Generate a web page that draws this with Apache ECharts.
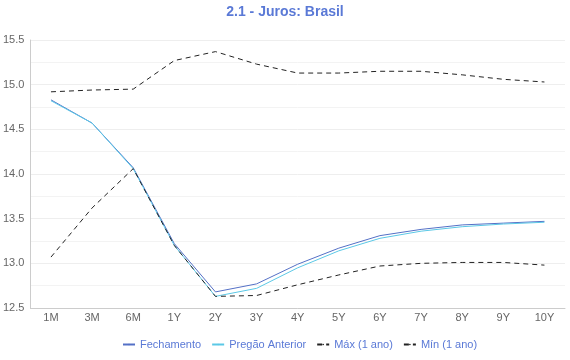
<!DOCTYPE html>
<html><head><meta charset="utf-8">
<script src="https://cdn.jsdelivr.net/npm/echarts@6/dist/echarts.min.js"></script>
<style>html,body{margin:0;padding:0;background:#fff}#c{width:570px;height:360px}</style>
</head><body><div id="c"></div>
<script>
const categories = ['1M','3M','6M','1Y','2Y','3Y','4Y','5Y','6Y','7Y','8Y','9Y','10Y'];
const fechamento = [14.83,14.57,14.07,13.22,12.68,12.77,12.99,13.17,13.31,13.38,13.43,13.45,13.47];
const pregaoAnterior = [14.82,14.57,14.06,13.20,12.63,12.72,12.95,13.14,13.28,13.36,13.41,13.44,13.46];
const maximo = [14.92,14.94,14.95,15.27,15.37,15.23,15.13,15.13,15.15,15.15,15.11,15.06,15.03];
const minimo = [13.07,13.62,14.06,13.20,12.63,12.64,12.76,12.87,12.97,13.00,13.01,13.01,12.98];
const yTicks = {min:12.5, max:15.5, interval:0.5};

const chart = echarts.init(document.getElementById('c'));
const font = 'Liberation Sans, Arial, sans-serif';
function mk(name, data, color, dashed){
  return {name, type:'line', data, symbol:'none', smooth:false,
    lineStyle:{color, width:1, type: dashed ? [5,4] : 'solid'},
    itemStyle:{color}};
}
chart.setOption({
  animation:false,
  title:{text:'2.1 - Juros: Brasil', left:'center', top:0,
    textStyle:{color:'#5a79d6', fontSize:14, fontWeight:'bold', fontFamily:font}},
  legend:{bottom:5, left:117, itemWidth:12, itemHeight:2, itemGap:10,
    textStyle:{color:'#5a79d6', fontSize:11, fontFamily:font}},
  grid:{left:30, right:5, top:40, bottom:52, containLabel:false},
  xAxis:{type:'category', data:categories, boundaryGap:true,
    axisLine:{lineStyle:{color:'#ccc'}}, axisTick:{show:false},
    axisLabel:{color:'#666', fontSize:11, fontFamily:font, margin:4}},
  yAxis:{type:'value', min:yTicks.min, max:yTicks.max, interval:yTicks.interval,
    axisLine:{show:true, lineStyle:{color:'#ccc'}}, axisTick:{show:false},
    axisLabel:{color:'#666', fontSize:11, fontFamily:font, formatter:v=>v.toFixed(1), margin:6},
    splitLine:{lineStyle:{color:'#eee'}},
    minorTick:{show:false, splitNumber:2},
    minorSplitLine:{show:true, lineStyle:{color:'#f3f3f3'}}},
  series:[
    mk('Fechamento', fechamento, '#5470c6', false),
    mk('Pregão Anterior', pregaoAnterior, '#5bc8e6', false),
    mk('Máx (1 ano)', maximo, '#222', true),
    mk('Mín (1 ano)', minimo, '#222', true)
  ]
});
</script></body></html>
